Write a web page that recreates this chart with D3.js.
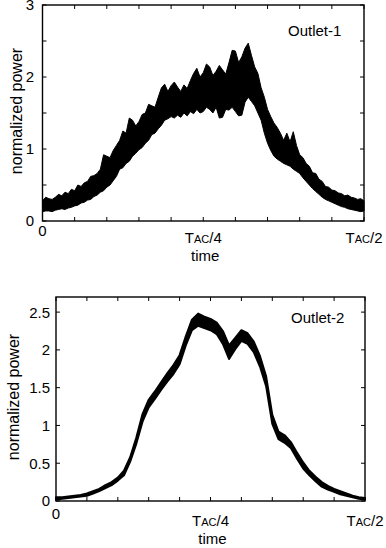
<!DOCTYPE html>
<html>
<head>
<meta charset="utf-8">
<script src="https://cdn.jsdelivr.net/npm/d3@7"></script>
<style>
  body { margin: 0; background: #fff; }
  text { font-family: "Liberation Sans", Arial, sans-serif; fill: #000; }
</style>
</head>
<body>
<svg id="fig" width="386" height="548"></svg>
<script>
// time in units of T_AC/100 (0 .. T_AC/2)
const time1 = [0,0.5,1,1.5,2,2.5,3,3.5,4,4.5,5,5.5,6,6.5,7,7.5,8,8.5,9,9.5,10,10.5,11,11.5,12,12.5,
               13,13.5,14,14.5,15,15.5,16,16.5,17,17.5,18,18.5,19,19.5,20,20.5,21,21.5,22,22.5,23,23.5,
               24,24.5,25,25.5,26,26.5,27,27.5,28,28.5,29,29.5,30,30.5,31,31.5,32,32.5,33,33.5,34,34.5,
               35,35.5,36,36.5,37,37.5,38,38.5,39,39.5,40,40.5,41,41.5,42,42.5,43,43.5,44,44.5,45,45.5,
               46,46.5,47,47.5,48,48.5,49,49.5,50];
const time2 = [0,1,2,3,4,5,6,7,8,9,10,11,12,13,14,15,16,17,18,19,20,21,22,23,24,25,
               26,27,28,29,30,31,32,33,34,35,36,37,38,39,40,41,42,43,44,45,46,47,48,49,50];

// Outlet-1 noisy band (upper / lower envelope, spikes included)
const outlet1Upper = [0.28,0.33,0.31,0.30,0.33,0.37,0.35,0.40,0.38,0.44,0.42,0.50,0.48,0.53,0.55,0.62,0.63,0.66,
                      0.72,0.92,0.90,0.88,0.98,1.05,1.12,1.25,1.22,1.43,1.40,1.32,1.38,1.48,1.50,1.62,1.60,1.58,
                      1.72,1.85,1.90,1.80,1.88,1.93,1.86,1.80,1.89,1.84,1.95,2.05,2.12,2.00,2.06,2.18,2.14,2.02,
                      2.08,2.16,2.10,2.04,2.20,2.37,2.36,2.20,2.28,2.40,2.47,2.30,2.14,2.05,1.85,1.72,1.55,1.45,
                      1.36,1.30,1.22,1.12,1.22,1.10,1.24,1.05,0.92,0.88,0.80,0.76,0.67,0.66,0.58,0.55,0.48,0.47,
                      0.43,0.42,0.39,0.38,0.35,0.36,0.33,0.32,0.30,0.31,0.28];
const outlet1Lower = [0.13,0.14,0.14,0.13,0.15,0.16,0.17,0.16,0.18,0.19,0.21,0.22,0.25,0.26,0.29,0.30,0.34,0.36,
                      0.40,0.42,0.47,0.50,0.56,0.62,0.72,0.74,0.80,0.83,0.90,0.94,0.99,1.02,1.08,1.12,1.20,1.22,
                      1.28,1.33,1.40,1.42,1.45,1.43,1.47,1.44,1.50,1.46,1.52,1.49,1.55,1.50,1.52,1.58,1.55,1.50,
                      1.58,1.43,1.44,1.55,1.54,1.58,1.52,1.46,1.47,1.65,1.72,1.66,1.60,1.50,1.40,1.22,1.08,0.98,
                      0.90,0.86,0.83,0.80,0.78,0.76,0.72,0.69,0.66,0.60,0.55,0.50,0.45,0.41,0.37,0.33,0.30,0.28,
                      0.26,0.24,0.22,0.20,0.19,0.17,0.16,0.15,0.14,0.13,0.14];

// Outlet-2 band (upper / lower envelope)
const outlet2Upper = [0.05,0.05,0.06,0.07,0.08,0.10,0.13,0.16,0.21,0.25,0.31,0.40,0.58,0.84,1.15,1.34,1.45,
                      1.57,1.69,1.80,1.93,2.18,2.40,2.48,2.44,2.41,2.36,2.25,2.06,2.16,2.26,2.22,2.11,1.92,
                      1.65,1.14,0.92,0.87,0.78,0.64,0.51,0.40,0.32,0.25,0.20,0.16,0.13,0.10,0.07,0.05,0.04];
const outlet2Lower = [0.02,0.03,0.04,0.05,0.06,0.07,0.10,0.13,0.17,0.21,0.27,0.34,0.52,0.76,1.05,1.24,1.35,
                      1.47,1.58,1.68,1.81,2.06,2.26,2.32,2.29,2.26,2.21,2.08,1.88,2.01,2.12,2.08,1.97,1.78,
                      1.52,1.02,0.82,0.77,0.70,0.56,0.43,0.34,0.26,0.19,0.15,0.12,0.09,0.07,0.05,0.03,0.02];

const timeTicks = [0,5,10,15,20,25,30,35,40,45,50];
const timeLabelAt = [0, 25, 50];
const timeLabelParts = [['0'], ['T','AC','/4'], ['T','AC','/2']];

const yTicks1 = [0,0.5,1,1.5,2,2.5,3];
const yLabels1 = [0,1,2,3];
const yTicks2 = [0,0.5,1,1.5,2,2.5];
const yLabels2 = [0,0.5,1,1.5,2,2.5];

const svg = d3.select('#fig');

function panel(o) {
  const x = d3.scaleLinear().domain([0, 50]).range([o.left, o.right]);
  const y = d3.scaleLinear().domain([0, o.yMax]).range([o.bottom, o.top]);
  const g = svg.append('g');

  // signal band
  const rows = o.time.map((t, i) => ({ t, hi: o.upper[i], lo: o.lower[i] }));
  g.append('path')
    .datum(rows)
    .attr('fill', '#000')
    .attr('stroke', '#000')
    .attr('stroke-width', o.lineWidth)
    .attr('stroke-linejoin', 'round')
    .attr('d', d3.area().x(d => x(d.t)).y0(d => y(d.lo)).y1(d => y(d.hi)));

  // frame
  g.append('rect')
    .attr('x', o.left).attr('y', o.top)
    .attr('width', o.right - o.left).attr('height', o.bottom - o.top)
    .attr('fill', 'none').attr('stroke', '#000').attr('stroke-width', 1.4);

  const tl = 4;
  // x ticks (bottom + top, inward)
  g.selectAll('.xt').data(timeTicks).enter().append('path')
    .attr('stroke', '#000').attr('stroke-width', 1)
    .attr('d', d => `M${x(d)},${o.bottom}v${-tl}M${x(d)},${o.top}v${tl}`);
  // y ticks (left + right, inward)
  g.selectAll('.yt').data(o.yTicks).enter().append('path')
    .attr('stroke', '#000').attr('stroke-width', 1)
    .attr('d', d => `M${o.left},${y(d)}h${tl}M${o.right},${y(d)}h${-tl}`);

  // y tick labels
  g.selectAll('.yl').data(o.yLabels).enter().append('text')
    .attr('x', o.yLabelX).attr('y', d => y(d)).attr('dy', '0.36em')
    .attr('text-anchor', 'end').style('font-size', '15px')
    .text(d => d);

  // x tick labels
  timeLabelAt.forEach((t, i) => {
    const parts = timeLabelParts[i];
    const txt = g.append('text')
      .attr('x', x(t)).attr('y', parts.length > 1 ? o.bottom + o.xLabelDy : o.bottom + o.zeroDy)
      .attr('text-anchor', 'middle').style('font-size', '15px');
    parts.forEach((p, j) => {
      txt.append('tspan').style('font-size', j === 1 ? '11px' : '15px').text(p);
    });
  });

  g.append('text')
    .attr('x', (o.left + o.right) / 2 + 2).attr('y', o.bottom + o.timeDy)
    .attr('text-anchor', 'middle').style('font-size', '15px')
    .text('time');

  g.append('text')
    .attr('transform', `translate(${o.axisTitleX},${(o.top + o.bottom) / 2 - 2}) rotate(-90)`)
    .attr('text-anchor', 'middle').style('font-size', '16px')
    .text('normalized power');

  g.append('text')
    .attr('x', o.titleX).attr('y', o.titleY)
    .style('font-size', '15px')
    .text(o.title);
}

panel({
  left: 42.5, right: 364, top: 5, bottom: 221, yMax: 3,
  time: time1, upper: outlet1Upper, lower: outlet1Lower, lineWidth: 1,
  yTicks: yTicks1, yLabels: yLabels1, yLabelX: 34,
  zeroDy: 15, xLabelDy: 22, timeDy: 40, axisTitleX: 22,
  title: 'Outlet-1', titleX: 288, titleY: 36
});

panel({
  left: 56, right: 365, top: 297, bottom: 501, yMax: 2.7,
  time: time2, upper: outlet2Upper, lower: outlet2Lower, lineWidth: 2,
  yTicks: yTicks2, yLabels: yLabels2, yLabelX: 50,
  zeroDy: 18, xLabelDy: 25, timeDy: 43, axisTitleX: 19,
  title: 'Outlet-2', titleX: 291, titleY: 323
});
</script>
</body>
</html>
